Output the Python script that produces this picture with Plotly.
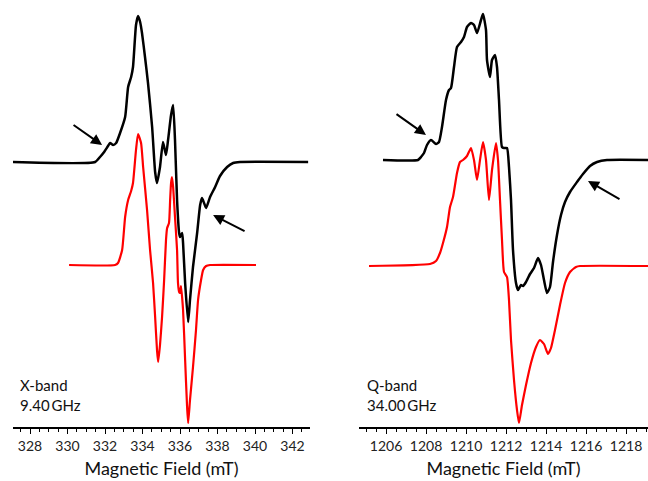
import plotly.graph_objects as go

# ---------------- X-band (mT, signal a.u.) ----------------
xb_exp_field = [327.09, 331.47, 331.73, 331.95, 332.16, 332.27, 332.43, 332.59, 332.80, 333.07,
                333.23, 333.39, 333.49, 333.65, 333.76, 333.87, 333.97, 334.13, 334.29, 334.51,
                334.67, 334.77, 334.93, 335.09, 335.25, 335.36, 335.52, 335.63, 335.73, 335.84,
                335.95, 336.00, 336.11, 336.16, 336.27, 336.43, 336.53, 336.69, 336.91, 337.07,
                337.17, 337.28, 337.39, 337.60, 337.87, 338.13, 338.51, 338.83, 339.20, 342.83]
xb_exp_sig = [0, 0, 5, 10, 16, 19, 17, 19, 29, 45,
              75, 85, 95, 137, 146, 140, 129, 105, 79, 35,
              -10, -21, -5, 20, 7, 22, 47, 57, 22, -38,
              -71, -75, -71, -81, -121, -160, -138, -105, -71, -43,
              -36, -41, -46, -35, -25, -14, -5, -1, 0, 0]

xb_sim_field = [330.08, 332.53, 332.69, 332.91, 333.07, 333.23, 333.39, 333.49, 333.65, 333.76,
                333.92, 334.03, 334.24, 334.40, 334.56, 334.67, 334.77, 334.83, 334.93, 335.04,
                335.15, 335.25, 335.31, 335.41, 335.47, 335.52, 335.57, 335.63, 335.73, 335.84,
                335.89, 335.95, 336.00, 336.05, 336.16, 336.27, 336.37, 336.43, 336.53, 336.69,
                336.85, 336.96, 337.12, 337.23, 337.39, 337.60, 340.05]
xb_sim_sig = [0, 0, 2, 15, 48, 65, 74, 82, 115, 131,
              122, 98, 55, 15, -18, -52, -85, -97, -80, -52,
              -15, 25, 37, 42, 65, 82, 88, 78, 48, 15,
              -18, -27, -28, -21, -45, -95, -140, -158, -135, -102,
              -65, -35, -15, -5, -1, 0, 0]

# ---------------- Q-band ----------------
qb_exp_field = [1205.85, 1207.6, 1207.75, 1207.9, 1208.05, 1208.25, 1208.5, 1208.65, 1208.8, 1209.0,
                1209.15, 1209.25, 1209.4, 1209.55, 1209.75, 1209.9, 1210.05, 1210.25, 1210.4, 1210.55,
                1210.75, 1210.85, 1211.0, 1211.05, 1211.2, 1211.3, 1211.45, 1211.55, 1211.65, 1211.8,
                1211.9, 1212.05, 1212.15, 1212.25, 1212.35, 1212.5, 1212.6, 1212.75, 1212.85, 1213.0,
                1213.2, 1213.4, 1213.6, 1213.75, 1213.9, 1214.05, 1214.2, 1214.35, 1214.55, 1214.75,
                1214.95, 1215.2, 1215.55, 1215.85, 1216.2, 1216.55, 1217.05, 1219.2]
qb_exp_sig = [0, 0, 3, 7, 15, 20, 16, 18, 33, 60,
              70, 72, 93, 113, 118, 123, 133, 137, 135, 127,
              140, 146, 130, 100, 83, 100, 105, 93, 60, 13,
              12, 12, -7, -40, -90, -123, -130, -125, -126, -122,
              -114, -108, -98, -105, -120, -133, -127, -102, -75, -55,
              -42, -32, -22, -14, -6, -2, 0, 0]

qb_sim_field = [1205.15, 1208.2, 1208.5, 1208.7, 1208.85, 1209.05, 1209.2, 1209.35, 1209.55, 1209.7,
                1209.85, 1210.05, 1210.25, 1210.4, 1210.55, 1210.7, 1210.85, 1211.0, 1211.15, 1211.3,
                1211.5, 1211.6, 1211.7, 1211.8, 1211.9, 1212.05, 1212.15, 1212.25, 1212.4, 1212.55,
                1212.65, 1212.8, 1213.0, 1213.25, 1213.5, 1213.7, 1213.9, 1214.1, 1214.25, 1214.45,
                1214.7, 1214.95, 1215.2, 1215.5, 1215.7, 1219.2]
qb_sim_sig = [0, 2, 5, 13, 23, 39, 59, 69, 93, 104,
              106, 110, 118, 106, 86, 106, 124, 106, 66, 96,
              123, 106, 66, 26, -6, -11, -34, -74, -114, -144,
              -157, -139, -119, -97, -81, -74, -78, -88, -82, -64,
              -39, -17, -6, -1, 0, 0]

x_ticks_left = [328, 330, 332, 334, 336, 338, 340, 342]
x_ticks_right = [1206, 1208, 1210, 1212, 1214, 1216, 1218]
band_labels = ["X-band<br>9.40\u2009GHz", "Q-band<br>34.00\u2009GHz"]

# vertical offsets (plot units = px)
OFF_L_EXP, OFF_L_SIM = 265, 162
OFF_R_EXP, OFF_R_SIM = 267, 161

fig = go.Figure()
line_exp = dict(color="black", width=2.5, shape="spline", smoothing=0.5)
line_sim = dict(color="#FF0000", width=2.2, shape="spline", smoothing=0.5)

fig.add_trace(go.Scatter(x=xb_exp_field, y=[v + OFF_L_EXP for v in xb_exp_sig],
                         mode="lines", line=line_exp, xaxis="x", yaxis="y"))
fig.add_trace(go.Scatter(x=xb_sim_field, y=[v + OFF_L_SIM for v in xb_sim_sig],
                         mode="lines", line=line_sim, xaxis="x", yaxis="y"))
fig.add_trace(go.Scatter(x=qb_exp_field, y=[v + OFF_R_EXP for v in qb_exp_sig],
                         mode="lines", line=line_exp, xaxis="x2", yaxis="y2"))
fig.add_trace(go.Scatter(x=qb_sim_field, y=[v + OFF_R_SIM for v in qb_sim_sig],
                         mode="lines", line=line_sim, xaxis="x2", yaxis="y2"))

FONT = "Lato, Open Sans, sans-serif"
xcommon = dict(showline=True, linecolor="black", linewidth=1.5, ticks="outside",
               ticklen=5, tickwidth=1.3, tickcolor="black", showgrid=False, zeroline=False,
               tickfont=dict(family=FONT, size=14, color="#222"),
               title=dict(text="Magnetic Field (mT)", font=dict(family=FONT, size=18, color="#111"),
                          standoff=10),
               minor=dict(dtick=0.5, ticks="outside", ticklen=3, tickwidth=1.1, tickcolor="black"))

fig.update_layout(
    width=648, height=481, showlegend=False,
    paper_bgcolor="white", plot_bgcolor="white",
    margin=dict(l=0, r=0, t=0, b=54),
    xaxis=dict(**xcommon, domain=[13 / 648, 310 / 648],
               range=[327.09, 342.93], tickvals=x_ticks_left, anchor="y"),
    xaxis2=dict(**xcommon, domain=[359 / 648, 1.0],
                range=[1204.65, 1219.1], tickvals=x_ticks_right, anchor="y2"),
    yaxis=dict(domain=[0, 1], range=[0, 427], visible=False, anchor="x"),
    yaxis2=dict(domain=[0, 1], range=[0, 427], visible=False, anchor="x2"),
)

# band labels (paper y is relative to the plot area, 427 px tall)
label_y = (427 - 395) / 427
fig.add_annotation(xref="paper", yref="paper", x=18 / 648, y=label_y, xanchor="left",
                   yanchor="middle", text=band_labels[0], showarrow=False, align="left",
                   font=dict(family=FONT, size=15, color="#111"))
fig.add_annotation(xref="paper", yref="paper", x=365 / 648, y=label_y, xanchor="left",
                   yanchor="middle", text=band_labels[1], showarrow=False, align="left",
                   font=dict(family=FONT, size=15, color="#111"))

# arrows
arrows = [("x", "y", 331.84, 282, 330.24, 303),
          ("x", "y", 337.76, 212, 339.52, 195),
          ("x2", "y2", 1208.0, 292, 1206.45, 314),
          ("x2", "y2", 1216.1, 246, 1217.75, 227)]
for xr, yr, hx, hy, tx, ty in arrows:
    fig.add_annotation(xref=xr, yref=yr, x=hx, y=hy, axref=xr, ayref=yr, ax=tx, ay=ty,
                       text="", showarrow=True, arrowhead=2, arrowsize=1.1, arrowwidth=2,
                       arrowcolor="black")

fig.write_html("out.html")
